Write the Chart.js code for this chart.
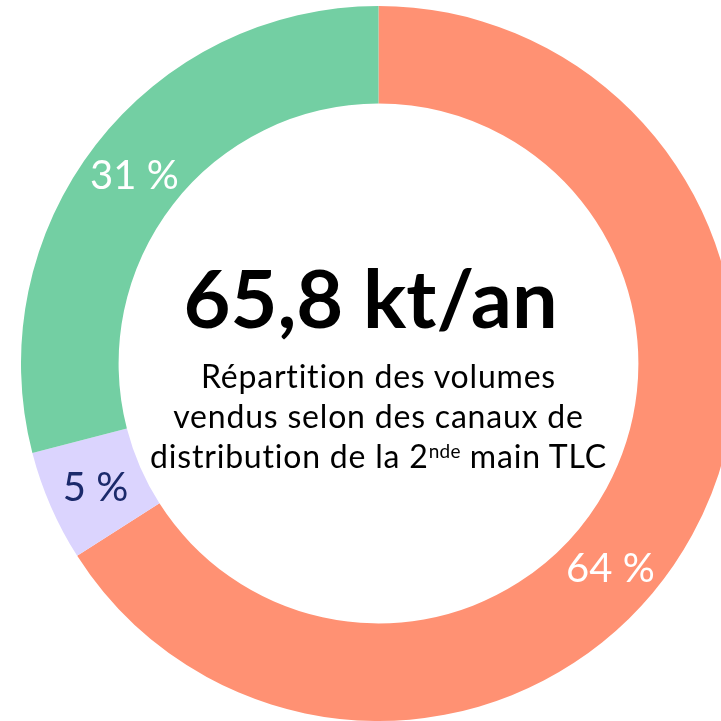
<!DOCTYPE html>
<html lang="fr">
<head>
<meta charset="utf-8">
<script src="https://cdn.jsdelivr.net/npm/chart.js@4"></script>
<style>
  html, body { margin: 0; padding: 0; background: #fff; }
  body { width: 721px; height: 721px; overflow: hidden; position: relative; font-family: Lato, sans-serif; font-variant-ligatures: none; }
  #chart-box { position: absolute; left: 21px; top: 6px; width: 715px; height: 715px; }
  #center-text { position: absolute; left: 128px; width: 501px; top: 0; text-align: center; color: #000; }
  #total { position: absolute; left: 0; right: 16px; top: 257px; font-size: 81px; line-height: 80px; font-weight: 700; }
  #caption { position: absolute; left: 0; right: 0; top: 356px; font-size: 32px; line-height: 40px; letter-spacing: 0.8px; }
  #caption .sup { font-size: 19px; line-height: 19px; vertical-align: 10px; letter-spacing: 0.3px; }
</style>
</head>
<body>
<div id="chart-box"><canvas id="donut"></canvas></div>
<div id="center-text">
  <div id="total">65,8 kt/an</div>
  <div id="caption">Répartition des volumes<br>vendus selon des canaux de<br>distribution de la 2<span class="sup">nde</span> main TLC</div>
</div>
<script>
const channels = ["Canal 1", "Canal 2", "Canal 3"];
const volumes = [43.4, 3.3, 19.1];
const shareLabels = ["64 %", "5 %", "31 %"];
const sliceColors = ["#FF9173", "#DBD4FE", "#73CFA3"];
const labelColors = ["#FFFFFF", "#1B2A6B", "#FFFFFF"];
// where along each arc the label sits (0 = start, 1 = end)
const labelAlong = [0.553, 0.5, 0.5];

const sliceLabels = {
    id: "sliceLabels",
    afterDatasetsDraw(chart) {
        const ctx = chart.ctx;
        const size = 40;
        ctx.save();
        ctx.font = "400 " + size + "px Lato";
        ctx.textAlign = "center";
        ctx.textBaseline = "alphabetic";
        chart.getDatasetMeta(0).data.forEach((arc, i) => {
            const p = arc.getProps(["x", "y", "startAngle", "endAngle", "innerRadius", "outerRadius"], true);
            const a = p.startAngle + (p.endAngle - p.startAngle) * labelAlong[i];
            const r = (p.innerRadius + p.outerRadius) / 2;
            const x = p.x + Math.cos(a) * r;
            const y = p.y + Math.sin(a) * r;
            ctx.fillStyle = labelColors[i];
            ctx.fillText(shareLabels[i], x, y + size * 0.36);
        });
        ctx.restore();
    }
};

document.fonts.load("400 40px Lato").then(() => {
    new Chart(document.getElementById("donut"), {
        type: "doughnut",
        data: {
            labels: channels,
            datasets: [{
                data: volumes,
                backgroundColor: sliceColors,
                borderWidth: 0
            }]
        },
        options: {
            responsive: true,
            maintainAspectRatio: false,
            animation: false,
            cutout: "72.7%",
            layout: { padding: 0 },
            plugins: {
                legend: { display: false },
                tooltip: { enabled: false }
            }
        },
        plugins: [sliceLabels]
    });
});
</script>
</body>
</html>
